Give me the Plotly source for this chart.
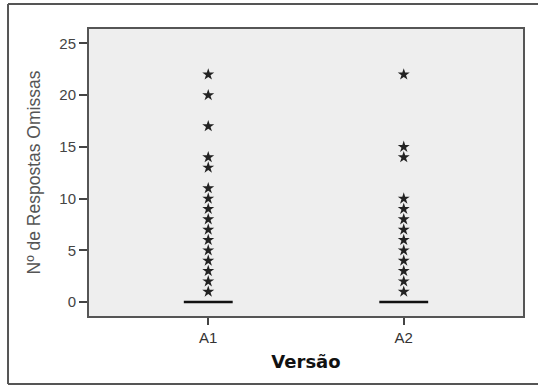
import plotly.graph_objects as go

categories = ["A1", "A2"]
medians = [0, 0]
q1 = [0, 0]
q3 = [0, 0]
outliers_A1 = [1, 2, 3, 4, 5, 6, 7, 8, 9, 10, 11, 13, 14, 17, 20, 22]
outliers_A2 = [1, 2, 3, 4, 5, 6, 7, 8, 9, 10, 14, 15, 22]
outliers = [outliers_A1, outliers_A2]
y_ticks = [0, 5, 10, 15, 20, 25]

fig = go.Figure()

for i, cat in enumerate(categories):
    fig.add_trace(go.Box(
        x=[i], q1=[q1[i]], median=[medians[i]], q3=[q3[i]],
        lowerfence=[q1[i]], upperfence=[q3[i]],
        width=0.25, line=dict(color="#111111", width=2.5),
        fillcolor="rgba(0,0,0,0)", boxpoints=False, showlegend=False,
        hoverinfo="skip",
    ))
    fig.add_trace(go.Scatter(
        x=[i] * len(outliers[i]), y=outliers[i], mode="markers",
        marker=dict(symbol="star", size=9, color="#222222",
                    line=dict(width=0)),
        showlegend=False,
    ))

frame = dict(color="#555555", width=2)
fig.update_layout(
    width=538, height=385,
    margin=dict(l=89, r=15, t=29, b=69),
    paper_bgcolor="white",
    plot_bgcolor="#eeeeee",
    font=dict(family="Arial, Liberation Sans, sans-serif", size=15, color="#444444"),
    xaxis=dict(
        range=[-0.61, 1.61], tickvals=[0, 1], ticktext=categories,
        showgrid=False, zeroline=False, showline=True, mirror=True,
        linecolor="#555555", linewidth=2, ticks="outside", ticklen=7,
        tickcolor="#444444", tickwidth=2,
        tickfont=dict(size=15, color="#333333"),
        title=dict(text="<b>Versão</b>", font=dict(family="DejaVu Sans, Verdana, sans-serif",
                                                 size=18, color="#111111"), standoff=10),
    ),
    yaxis=dict(
        range=[-1.35, 26.4], tickvals=y_ticks,
        showgrid=False, zeroline=False, showline=True, mirror=True,
        linecolor="#555555", linewidth=2, ticks="outside", ticklen=8,
        tickcolor="#444444", tickwidth=1.5,
        tickfont=dict(size=15, color="#444444"),
        title=dict(text="Nº de Respostas Omissas", font=dict(size=17.5, color="#555555"), standoff=14),
    ),
    shapes=[
        dict(type="line", xref="paper", yref="paper", x0=-0.1866, x1=-0.1866,
             y0=-0.237, y1=1.087, line=frame),
        dict(type="line", xref="paper", yref="paper", x0=-0.1866, x1=1.2,
             y0=1.087, y1=1.087, line=frame),
        dict(type="line", xref="paper", yref="paper", x0=-0.1866, x1=1.2,
             y0=-0.237, y1=-0.237, line=frame),
    ],
)

fig.write_html("out.html", config={"displayModeBar": False},
               post_script="document.body.style.margin='0';document.body.style.overflow='hidden';")
